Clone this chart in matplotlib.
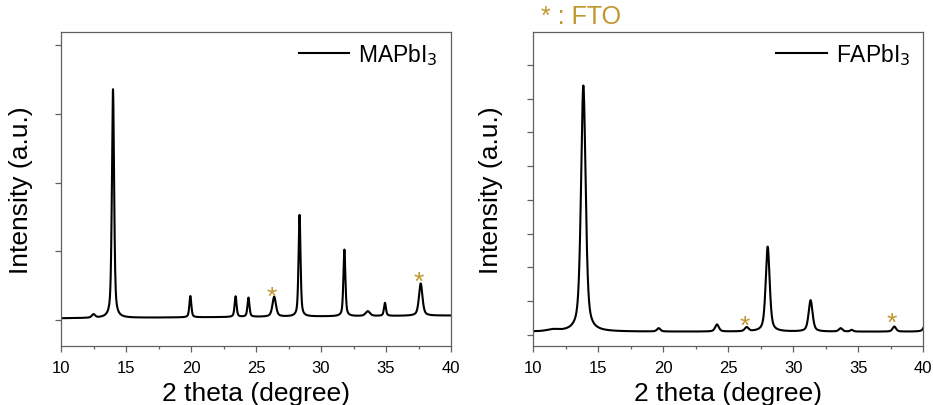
import numpy as np
import matplotlib
matplotlib.use("Agg")
import matplotlib.pyplot as plt

plt.rcParams["font.family"] = ["Liberation Sans", "DejaVu Sans"]

GOLD = "#C2962E"
SPINE = "#606060"

# MAPbI3 reflections: position (deg), height above background (a.u.), FWHM (deg)
mapbi3_pos = [12.50, 14.00, 19.95, 23.43, 24.42, 26.40, 28.35, 31.80, 33.60, 34.92, 37.67]
mapbi3_amp = [0.05, 3.33, 0.31, 0.30, 0.28, 0.29, 1.48, 0.97, 0.07, 0.19, 0.47]
mapbi3_fwhm = [0.30, 0.20, 0.18, 0.18, 0.18, 0.32, 0.18, 0.18, 0.40, 0.18, 0.32]
mapbi3_background = (0.025, 0.065)

# FAPbI3 reflections
fapbi3_pos = [11.50, 13.85, 19.64, 24.13, 26.41, 28.03, 31.33, 33.64, 34.49, 37.77, 40.25]
fapbi3_amp = [0.05, 7.30, 0.10, 0.21, 0.12, 2.52, 0.93, 0.10, 0.05, 0.15, 0.40]
fapbi3_fwhm = [1.00, 0.42, 0.30, 0.34, 0.34, 0.36, 0.36, 0.32, 0.26, 0.32, 0.34]
fapbi3_background = (0.09, 0.09)

# FTO substrate reflections flagged with an asterisk (x, y)
mapbi3_fto_x = [26.24, 37.54]
mapbi3_fto_y = [0.46, 0.67]
fapbi3_fto_x = [26.23, 37.59]
fapbi3_fto_y = [0.52, 0.61]

two_theta = np.linspace(10, 40, 3001)


def pattern(pos, amp, fwhm, background, eta=0.55):
    y = background[0] + (background[1] - background[0]) * (two_theta - 10) / 30
    for c, a, w in zip(pos, amp, fwhm):
        d = (two_theta - c) / w
        lor = 1.0 / (1.0 + 4.0 * d ** 2)
        gau = np.exp(-4.0 * np.log(2.0) * d ** 2)
        y = y + a * (eta * lor + (1 - eta) * gau)
    return y


fig = plt.figure(figsize=(9.33, 4.06), dpi=100)
ax1 = fig.add_axes([61 / 933, 58.7 / 406, 390 / 933, 314 / 406])
ax2 = fig.add_axes([533.3 / 933, 58.7 / 406, 390 / 933, 314 / 406])

panels = [
    (ax1, pattern(mapbi3_pos, mapbi3_amp, mapbi3_fwhm, mapbi3_background),
     "MAPbI$_3$", mapbi3_fto_x, mapbi3_fto_y, (-0.383, 4.19), np.arange(0, 5, 1), -0.072),
    (ax2, pattern(fapbi3_pos, fapbi3_amp, fapbi3_fwhm, fapbi3_background),
     "FAPbI$_3$", fapbi3_fto_x, fapbi3_fto_y, (-0.344, 8.97), np.arange(0, 9, 1), -0.077),
]

for ax, y, label, fx, fy, ylim, yticks, ylab_x in panels:
    ax.plot(two_theta, y, color="black", lw=1.5, label=label)
    ax.set_xlim(10, 40)
    ax.set_ylim(*ylim)
    ax.set_xticks(np.arange(10, 41, 5))
    ax.set_xticks(np.arange(12.5, 40, 5), minor=True)
    ax.set_yticks(yticks)
    ax.set_yticklabels([])
    ax.tick_params(axis="both", which="major", direction="out", length=4,
                   width=0.9, color=SPINE, labelsize=12, pad=6)
    ax.tick_params(axis="x", which="minor", direction="out", length=2.5,
                   width=0.9, color=SPINE)
    for s in ax.spines.values():
        s.set_color(SPINE)
        s.set_linewidth(0.9)
    ax.set_xlabel("2 theta (degree)", fontsize=19, labelpad=4)
    ax.set_ylabel("Intensity (a.u.)", fontsize=19)
    ax.yaxis.set_label_coords(ylab_x, 0.5)
    for xs, ys in zip(fx, fy):
        ax.annotate("*", xy=(xs, ys), xytext=(0, -0.58 * 19), textcoords="offset points",
                    ha="center", va="baseline", fontsize=19, color=GOLD)
    ax.legend(loc="upper right", frameon=False, fontsize=16.5, handlelength=2.2,
              handletextpad=0.4, borderaxespad=0.0, bbox_to_anchor=(0.99, 1.0))

fig.text(541 / 933, 1 - 16.5 / 406, "* : FTO", fontsize=18, color=GOLD,
         ha="left", va="center")

fig.savefig("out.png", dpi=100)
